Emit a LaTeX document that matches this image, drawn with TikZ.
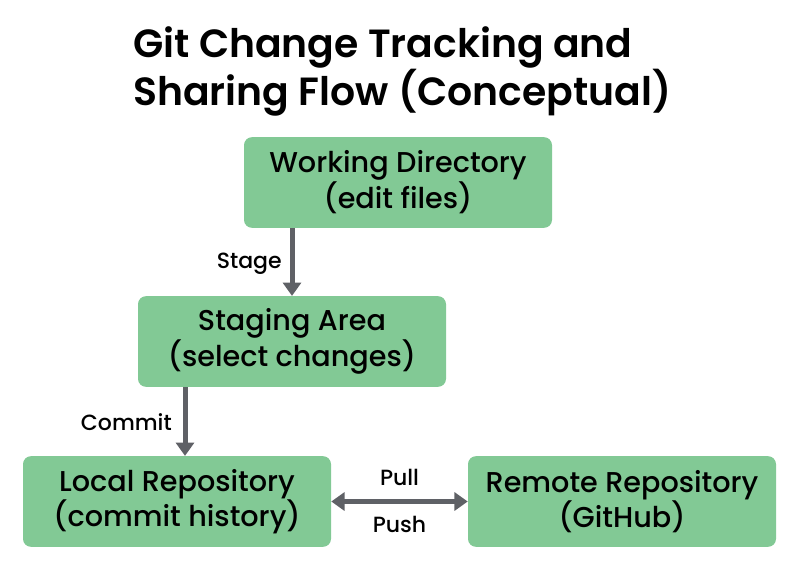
\documentclass[tikz,border=0pt]{standalone}
\usepackage{fontspec}
\setmainfont{Poppins}[UprightFont=* Medium, BoldFont=* SemiBold]
\usepackage{tikz}
\usetikzlibrary{arrows.meta,positioning}
\definecolor{boxgreen}{HTML}{82C995}
\definecolor{flowgray}{HTML}{5F6166}

\begin{document}
\begin{tikzpicture}[
    x=0.75pt, y=-0.75pt,
    stage/.style={draw=none, fill=boxgreen, rounded corners=6pt, minimum width=231pt,
                  minimum height=68pt, align=center, font=\fontsize{21.5}{24.5}\selectfont},
    flow/.style={draw=flowgray, line width=3.75pt, -{Triangle[width=13.5pt,length=10pt]}},
    lab/.style={font=\fontsize{16.5}{18}\selectfont, inner sep=0pt},
  ]
  \useasboundingbox (0,0) rectangle (800,569);

  % title
  \node[anchor=north west, align=left, inner sep=0pt,
        font=\fontsize{29.5}{32.5}\selectfont\bfseries] (title) at (133,26)
    {Git Change Tracking and\\Sharing Flow (Conceptual)};

  % the four places
  \node[stage] (wd) at (398,182.5) {Working Directory\\(edit files)};
  \node[stage] (sa) at (292,341.5) {Staging Area\\(select changes)};
  \node[stage] (lr) at (177,501.5) {Local Repository\\(commit history)};
  \node[stage] (rr) at (622,501.5) {Remote Repository\\(GitHub)};

  % connectors
  \draw[flow] (wd.south -| sa.north) -- (sa.north);
  \node[lab, anchor=east] (lstage) at (282,264) {Stage};
  \draw[flow] ([xshift=-80.25pt]sa.south) -- ([xshift=-80.25pt]sa.south |- lr.north);
  \node[lab, anchor=east] (lcommit) at (172,422) {Commit};
  \draw[flow, {Triangle[width=13.5pt,length=10pt]}-{Triangle[width=13.5pt,length=10pt]}]
    (lr.east) -- (rr.west);
  \node[lab] (lpull) at (399.5,477) {Pull};
  \node[lab] (lpush) at (399.5,524) {Push};
\end{tikzpicture}
\end{document}
